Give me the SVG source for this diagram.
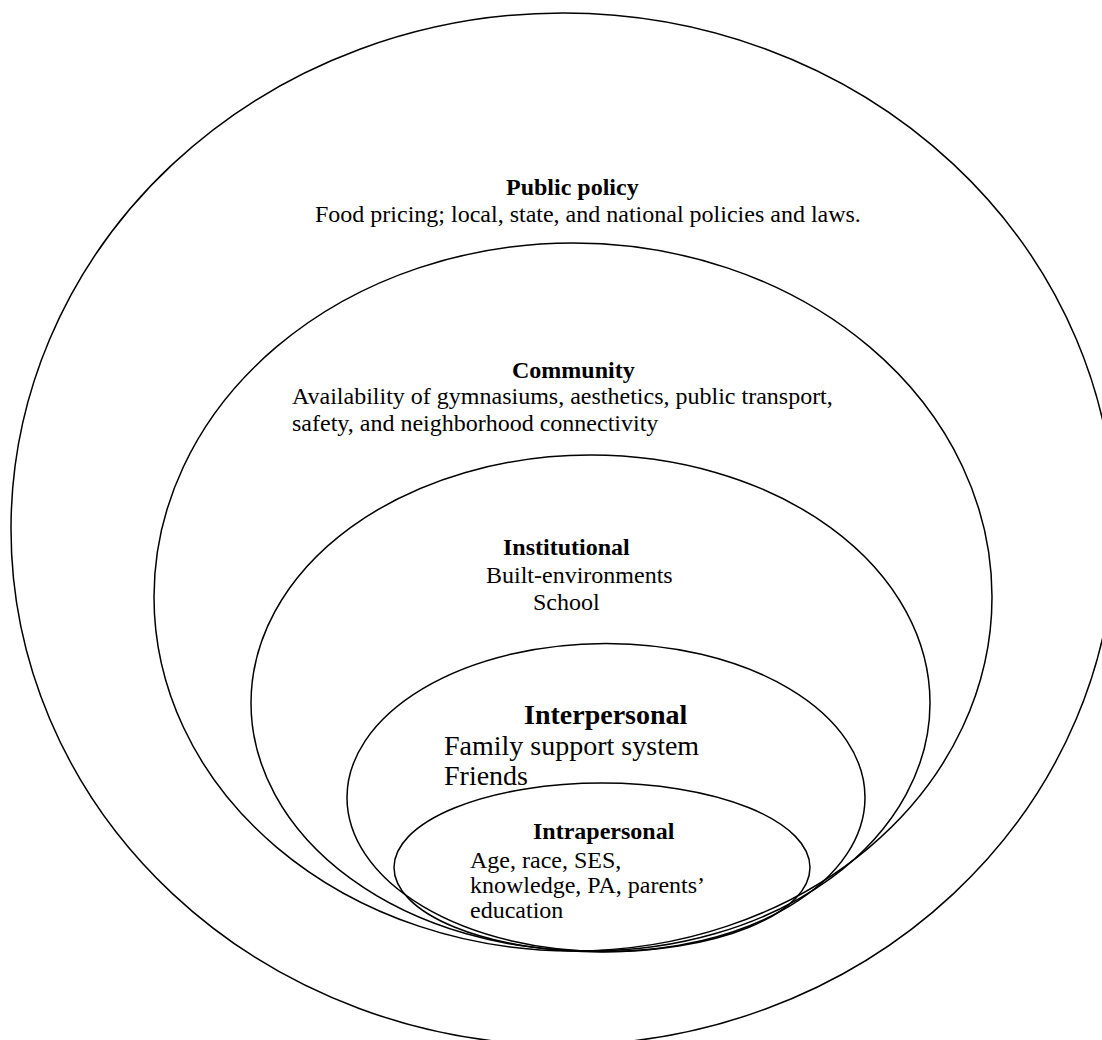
<svg xmlns="http://www.w3.org/2000/svg" width="1102" height="1040" viewBox="0 0 1102 1040">
<style>
.ring{fill:none;stroke:#000;stroke-width:1.5}
text{font-family:"Liberation Serif","Times New Roman",serif;fill:#000;font-size:24px}
.h{font-weight:bold}
.big{font-size:28px}
</style>
<rect width="1102" height="1040" fill="#fff"/>
<g id="public-policy">
<ellipse class="ring" cx="563" cy="529" rx="552" ry="516"/>
<text class="h" x="506" y="195">Public policy</text>
<text x="315" y="222">Food pricing; local, state, and national policies and laws.</text>
</g>
<g id="community">
<ellipse class="ring" cx="573" cy="597" rx="419" ry="354"/>
<text class="h" x="512" y="378">Community</text>
<text x="292" y="404">Availability of gymnasiums, aesthetics, public transport,</text>
<text x="292" y="431">safety, and neighborhood connectivity</text>
</g>
<g id="institutional">
<ellipse class="ring" cx="590.5" cy="703" rx="339.5" ry="248"/>
<text class="h" x="503" y="555">Institutional</text>
<text x="486" y="583">Built-environments</text>
<text x="533" y="610">School</text>
</g>
<g id="interpersonal">
<ellipse class="ring" cx="606" cy="797.5" rx="259" ry="154"/>
<text class="h big" x="524" y="724">Interpersonal</text>
<text class="big" x="444" y="755">Family support system</text>
<text class="big" x="444" y="785">Friends</text>
</g>
<g id="intrapersonal">
<ellipse class="ring" cx="602" cy="867.5" rx="208" ry="84.5"/>
<text class="h" x="533" y="839">Intrapersonal</text>
<text x="470" y="868">Age, race, SES,</text>
<text x="470" y="893">knowledge, PA, parents’</text>
<text x="470" y="918">education</text>
</g>
<g id="connectors"/>
</svg>
